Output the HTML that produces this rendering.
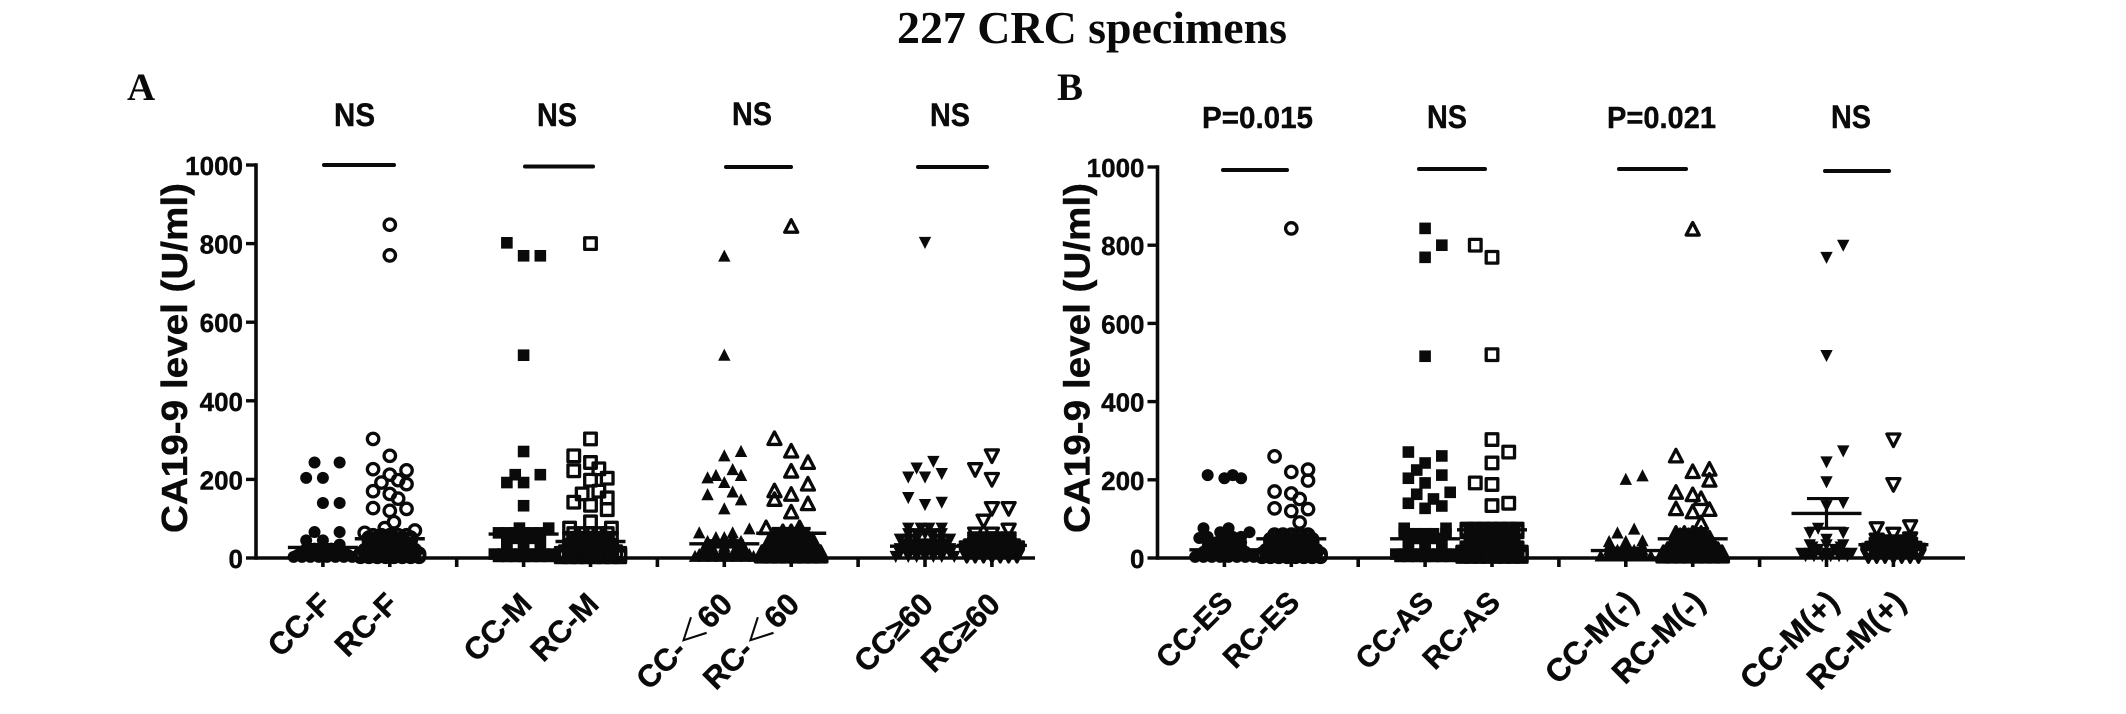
<!DOCTYPE html>
<html lang="en">
<head>
<meta charset="utf-8">
<title>227 CRC specimens</title>
<style>
html,body{margin:0;padding:0;background:#fff;width:2126px;height:714px;overflow:hidden}
svg{display:block}
text{fill:#0a0a0a}
.serif{font-family:"Liberation Serif",serif;font-weight:700}
.sans{font-family:"Liberation Sans","Noto Sans CJK SC",sans-serif;font-weight:700;stroke:#0a0a0a;stroke-width:.4}
</style>
</head>
<body>
<svg id="figure" width="2126" height="714" viewBox="0 0 2126 714" xmlns="http://www.w3.org/2000/svg">
  <rect x="0" y="0" width="2126" height="714" fill="#fff"/>
  <text class="serif" x="897" y="43" font-size="45" textLength="390" lengthAdjust="spacingAndGlyphs">227 CRC specimens</text>
  <text class="serif" x="127" y="100" font-size="39">A</text>
  <text class="serif" x="1057" y="100" font-size="39">B</text>

  <text class="sans" x="334" y="126" font-size="32" textLength="41" lengthAdjust="spacingAndGlyphs">NS</text>
  <text class="sans" x="537" y="126" font-size="32" textLength="40" lengthAdjust="spacingAndGlyphs">NS</text>
  <text class="sans" x="732" y="125" font-size="32" textLength="40" lengthAdjust="spacingAndGlyphs">NS</text>
  <text class="sans" x="930" y="126" font-size="32" textLength="40" lengthAdjust="spacingAndGlyphs">NS</text>
  <text class="sans" x="1202" y="128" font-size="31" textLength="111" lengthAdjust="spacingAndGlyphs">P=0.015</text>
  <text class="sans" x="1427" y="128" font-size="32" textLength="40" lengthAdjust="spacingAndGlyphs">NS</text>
  <text class="sans" x="1607" y="128" font-size="31" textLength="109" lengthAdjust="spacingAndGlyphs">P=0.021</text>
  <text class="sans" x="1831" y="128" font-size="32" textLength="40" lengthAdjust="spacingAndGlyphs">NS</text>

  <rect x="322" y="163" width="74" height="4" rx="2" fill="#0a0a0a"/>
  <rect x="523" y="164.5" width="72" height="4" rx="2" fill="#0a0a0a"/>
  <rect x="724" y="165" width="69" height="4" rx="2" fill="#0a0a0a"/>
  <rect x="916" y="165" width="73" height="4" rx="2" fill="#0a0a0a"/>
  <rect x="1221" y="168" width="68" height="4" rx="2" fill="#0a0a0a"/>
  <rect x="1417" y="167" width="70" height="4" rx="2" fill="#0a0a0a"/>
  <rect x="1617" y="167" width="71" height="4" rx="2" fill="#0a0a0a"/>
  <rect x="1823" y="169" width="68" height="4" rx="2" fill="#0a0a0a"/>

  <text class="sans" transform="translate(187,533) rotate(-90)" font-size="36" textLength="350" lengthAdjust="spacingAndGlyphs">CA19-9 level (U/ml)</text>
  <text class="sans" transform="translate(1089.5,533) rotate(-90)" font-size="36" textLength="350" lengthAdjust="spacingAndGlyphs">CA19-9 level (U/ml)</text>
</svg>

<script>
// ---------- Axis tick labels ----------
const yTickValues = [0, 200, 400, 600, 800, 1000];
const categoriesA = ['CC-F', 'RC-F', 'CC-M', 'RC-M', 'CC-＜60', 'RC-＜60', 'CC≥60', 'RC≥60'];
const categoriesB = ['CC-ES', 'RC-ES', 'CC-AS', 'RC-AS', 'CC-M(-)', 'RC-M(-)', 'CC-M(+)', 'RC-M(+)'];
// Category order along the x axis (1-based slot; slots 3, 6, 9 are the blank spacers)
const categorySlots = [1, 2, 4, 5, 7, 8, 10, 11];
const spacerSlots = [3, 6, 9];

// ---------- Summary statistics ----------
const meansA = [27, 49, 61, 42, 36, 63, 30, 32];
const semsA = [7, 9, 10, 8, 8, 12, 7, 6];
const meansB = [21, 49, 49, 72, 19, 49, 114, 34];
const semsB = [6, 10, 9, 12, 6, 9, 38, 9];

// ---------- Panel A series: values (U/ml) and swarm column (in symbol widths) ----------
const ccFValues = [243,243,204,204,140,140,66,66,45,45,34,
  24,24,24,24,24,
  15,15,15,15,15,15,
  8,8,8,8,8,8,8,
  3,3,3,3,3,3,3,3];
const ccFColumns = [-1,2,-2,0,0,2,-1,2,-2,0,2,
  -2,-1,0,1,2,
  -2.5,-1.5,-.5,.5,1.5,2.5,
  -3,-2,-1,0,1,2,3,
  -3.5,-2.5,-1.5,-.5,.5,1.5,2.5,3.5];

const rcFValues = [848,770,303,260,226,223,212,192,198,188,170,163,151,127,125,120,91,76,64,70,
  58,58,58,58,58,
  52,52,52,52,52,52,
  45,45,45,45,45,45,
  35,35,35,35,35,
  30,30,30,30,30,30,
  25,25,25,25,25,25,
  20,20,20,20,20,20,20,
  15,15,15,15,15,15,15,
  11,11,11,11,11,11,11,11,
  8,8,8,8,8,8,8,8,
  3,3,3,3,3,3,3,3];
const rcFColumns = [0,0,-2,0,-2,2,0,-1,1,2,-2,0,1,-2,2,0,.5,-.6,-3,3,
  -2,-1,0,1,2,
  -2.5,-1.5,-.5,.5,1.5,2.5,
  -2.5,-1.5,-.5,.5,1.5,2.5,
  -2,-1,0,1,2,
  -2.5,-1.5,-.5,.5,1.5,2.5,
  -2.5,-1.5,-.5,.5,1.5,2.5,
  -3,-2,-1,0,1,2,3,
  -3,-2,-1,0,1,2,3,
  -3.5,-2.5,-1.5,-.5,.5,1.5,2.5,3.5,
  -3.5,-2.5,-1.5,-.5,.5,1.5,2.5,3.5,
  -3.5,-2.5,-1.5,-.5,.5,1.5,2.5,3.5];

const ccMValues = [802,769,769,516,271,212,212,192,192,133,76,76,
  64,64,64,64,64,64,
  50,50,50,50,50,
  35,35,35,
  22,22,22,
  10,10,10,10,10,10,10,10,
  4,4,4,4,4,4,4];
const ccMColumns = [-2,0,2,0,0,-1,2,-2,0,0,3,-.5,
  -3,-2,-1,0,1,2,
  -2,-1,0,1,2,
  -2,0,2,
  -2,0,2,
  -3.5,-2.5,-1.5,-.5,.5,1.5,2.5,3.5,
  -3,-2,-1,0,1,2,3];

const rcMValues = [800,303,260,243,227,222,203,198,163,170,153,142,134,123,92,76,76,
  62,62,62,62,62,
  50,50,50,50,50,50,
  44,44,44,44,44,
  38,38,38,38,38,
  32,32,32,32,32,32,
  26,26,26,26,26,26,
  21,21,21,21,21,21,
  16,16,16,16,16,16,16,
  12,12,12,12,12,12,12,12,
  8,8,8,8,8,8,8,8,
  3,3,3,3,3,3,3,3];
const rcMColumns = [0,0,-2,0,1,-2,2,0,-1,1,2,-2,0,2,0,-2.5,2.5,
  -2,-1,0,1,2,
  -2.5,-1.5,-.5,.5,1.5,2.5,
  -2,-1,0,1,2,
  -2,-1,0,1,2,
  -2.5,-1.5,-.5,.5,1.5,2.5,
  -2.5,-1.5,-.5,.5,1.5,2.5,
  -2.5,-1.5,-.5,.5,1.5,2.5,
  -3,-2,-1,0,1,2,3,
  -3.5,-2.5,-1.5,-.5,.5,1.5,2.5,3.5,
  -3.5,-2.5,-1.5,-.5,.5,1.5,2.5,3.5,
  -3.5,-2.5,-1.5,-.5,.5,1.5,2.5,3.5];

const ccYoungValues = [768,516,271,260,225,210,210,204,192,161,168,148,125,74,64,64,
  52,52,52,
  42,42,42,42,42,
  30,30,30,30,30,
  18,18,18,18,18,
  9,9,9,9,9,9,9,
  4,4,4,4,4,4,4,4];
const ccYoungColumns = [0,0,2,0,1,-1,2,-2,0,-2,1,2,0,3,-3,1,
  -1,0,1,
  -2,-1,0,1,2,
  -2.3,-1.6,0,1.6,2.3,
  -2.3,-1.6,0,1.6,2.3,
  -3,-2,-1,0,1,2,3,
  -3.5,-2.5,-1.5,-.5,.5,1.5,2.5,3.5];

const rcYoungValues = [843,303,271,242,220,187,170,148,161,137,116,76,76,
  66,66,66,
  56,56,56,56,
  52,52,52,52,52,
  46,46,46,46,46,46,
  40,40,40,40,40,40,
  34,34,34,34,34,34,
  28,28,28,28,28,
  22,22,22,22,22,22,22,
  17,17,17,17,17,17,17,
  13,13,13,13,13,13,13,13,
  9,9,9,9,9,9,9,9,
  4,4,4,4,4,4,4,4];
const rcYoungColumns = [0,-2,0,2,0,2,-2,-2,0,2,0,-3,1,
  -1,0,1,
  -1.5,-.5,.5,1.5,
  -2,-1,0,1,2,
  -2.5,-1.5,-.5,.5,1.5,2.5,
  -2.5,-1.5,-.5,.5,1.5,2.5,
  -2.5,-1.5,-.5,.5,1.5,2.5,
  -2,-1,0,1,2,
  -3,-2,-1,0,1,2,3,
  -3,-2,-1,0,1,2,3,
  -3.5,-2.5,-1.5,-.5,.5,1.5,2.5,3.5,
  -3.5,-2.5,-1.5,-.5,.5,1.5,2.5,3.5,
  -3.5,-2.5,-1.5,-.5,.5,1.5,2.5,3.5];

const ccOldValues = [803,246,229,206,206,215,154,136,142,76,76,76,76,
  62,62,62,62,62,
  48,48,48,48,48,48,
  36,36,36,36,36,36,
  24,24,24,24,24,24,24,
  12,12,12,12,12,12,12,
  4,4,4,4,4,4,4];
const ccOldColumns = [0,1,-1,-2,0,2,-2,0,2,-2,-.5,.5,2,
  -2,-1,0,1,2,
  -3,-2,-1,1,2,3,
  -2.5,-1.5,-.5,.5,1.5,2.5,
  -3,-2,-1,0,1,2,3,
  -3,-2,-1,0,1,2,3,
  -3.5,-2,-1,0,1,2,3.5];

const rcOldValues = [261,226,201,127,127,95,72,62,62,
  50,50,50,50,
  44,44,44,44,44,
  38,38,38,38,38,
  32,32,32,32,32,32,
  27,27,27,27,27,27,27,
  22,22,22,22,22,22,22,
  17,17,17,17,17,17,17,
  12,12,12,12,12,12,12,
  8,8,8,8,8,8,8];
const rcOldColumns = [0,-2,0,0,2,-1,2,-2,0,
  -2,-.5,.5,2,
  -2,-1,0,1,2,
  -2,-1,0,1,2,
  -2.5,-1.5,-.5,.5,1.5,2.5,
  -3,-2,-1,0,1,2,3,
  -3,-2,-1,0,1,2,3,
  -3,-2,-1,0,1,2,3,
  -3,-2,-1,0,1,2,3,
  -3,-2,-1,0,1,2,3];

// ---------- Panel B series ----------
const ccEsValues = [212,212,204,204,76,76,66,66,51,
  54,54,54,54,
  40,40,40,40,40,
  28,28,28,
  16,16,16,16,16,16,
  8,8,8,8,8,8,8,
  3,3,3,3,3,3,3,3];
const ccEsColumns = [-2,1,0,2,-2.5,.5,3,-.5,-3,
  -2,0,1,2,
  -2,-1,0,1,2,
  -2,0,2,
  -2.5,-1.5,-.5,.5,1.5,2.5,
  -3,-2,-1,0,1,2,3,
  -3.5,-2.5,-1.5,-.5,.5,1.5,2.5,3.5];

const rcEsValues = [843,260,226,220,198,170,165,151,127,125,120,91,
  60,60,60,60,60,
  54,54,54,54,54,
  48,48,48,48,48,48,
  42,42,42,42,42,42,
  36,36,36,36,36,
  30,30,30,30,30,30,
  25,25,25,25,25,25,
  20,20,20,20,20,20,20,
  15,15,15,15,15,15,15,
  11,11,11,11,11,11,11,11,
  8,8,8,8,8,8,8,8,
  3,3,3,3,3,3,3,3];
const rcEsColumns = [0,-2,2,0,2,-2,0,1,-2,2,0,1,
  -2,-1,0,1,2,
  -2,-1,0,1,2,
  -2.5,-1.5,-.5,.5,1.5,2.5,
  -2.5,-1.5,-.5,.5,1.5,2.5,
  -2,-1,0,1,2,
  -2.5,-1.5,-.5,.5,1.5,2.5,
  -2.5,-1.5,-.5,.5,1.5,2.5,
  -3,-2,-1,0,1,2,3,
  -3,-2,-1,0,1,2,3,
  -3.5,-2.5,-1.5,-.5,.5,1.5,2.5,3.5,
  -3.5,-2.5,-1.5,-.5,.5,1.5,2.5,3.5,
  -3.5,-2.5,-1.5,-.5,.5,1.5,2.5,3.5];

const ccAsValues = [843,800,769,516,271,261,243,225,212,204,192,163,168,151,140,133,127,76,76,
  62,62,62,62,62,62,
  50,50,50,50,50,
  35,35,35,
  22,22,22,
  10,10,10,10,10,10,10,10,
  4,4,4,4,4,4,4];
const ccAsColumns = [0,2,0,0,-2,2,0,-1,2,-2,0,-1,3,1,-2,2,0,-2.5,2.5,
  -2.5,-1,0,1,2.5,-2,
  -2,-1,0,1,2,
  -2,0,2,
  -2,0,2,
  -3.5,-2.5,-1.5,-.5,.5,1.5,2.5,3.5,
  -3,-2,-1,0,1,2,3];

const rcAsValues = [800,769,520,303,271,243,192,188,140,134,
  74,74,74,74,74,74,74,
  67,67,67,67,67,67,67,
  60,60,60,60,60,60,
  53,53,53,53,53,53,
  46,46,46,46,46,46,
  39,39,39,39,39,39,
  32,32,32,32,32,32,
  26,26,26,26,26,26,26,
  20,20,20,20,20,20,20,
  15,15,15,15,15,15,15,15,
  10,10,10,10,10,10,10,10,
  4,4,4,4,4,4,4,4];
const rcAsColumns = [-2,0,0,0,2,0,-2,0,2,0,
  -3,-2,-1,0,1,2,3,
  -3,-2,-1,0,1,2,3,
  -2.5,-1.5,-.5,.5,1.5,2.5,
  -2.5,-1.5,-.5,.5,1.5,2.5,
  -2.5,-1.5,-.5,.5,1.5,2.5,
  -2.5,-1.5,-.5,.5,1.5,2.5,
  -2.5,-1.5,-.5,.5,1.5,2.5,
  -3,-2,-1,0,1,2,3,
  -3,-2,-1,0,1,2,3,
  -3.5,-2.5,-1.5,-.5,.5,1.5,2.5,3.5,
  -3.5,-2.5,-1.5,-.5,.5,1.5,2.5,3.5,
  -3.5,-2.5,-1.5,-.5,.5,1.5,2.5,3.5];

const ccMNegValues = [201,210,74,64,44,42,42,
  30,30,30,
  20,20,20,20,20,
  11,11,11,11,11,
  5,5,5,5,5,5,5];
const ccMNegColumns = [0,2,1,-1,2,-2,0,
  -2,0,2,
  -2,-1,0,1,2,
  -2,-1,0,1,2,
  -3,-2,-1,0,1,2,3];

const rcMNegValues = [840,260,220,226,198,167,161,151,125,117,123,89,
  62,62,62,62,
  56,56,56,56,
  50,50,50,50,50,
  44,44,44,44,44,
  38,38,38,38,38,
  32,32,32,32,32,32,
  26,26,26,26,26,26,
  21,21,21,21,21,21,21,
  17,17,17,17,17,17,17,
  13,13,13,13,13,13,13,13,
  9,9,9,9,9,9,9,9,
  4,4,4,4,4,4,4,4];
const rcMNegColumns = [0,-2,0,2,2,-2,0,1,-2,0,2,1,
  -2,-1,0,1,
  -1.5,-.5,.5,1.5,
  -2,-1,0,1,2,
  -2,-1,0,1,2,
  -2,-1,0,1,2,
  -2.5,-1.5,-.5,.5,1.5,2.5,
  -2.5,-1.5,-.5,.5,1.5,2.5,
  -3,-2,-1,0,1,2,3,
  -3,-2,-1,0,1,2,3,
  -3.5,-2.5,-1.5,-.5,.5,1.5,2.5,3.5,
  -3.5,-2.5,-1.5,-.5,.5,1.5,2.5,3.5,
  -3.5,-2.5,-1.5,-.5,.5,1.5,2.5,3.5];

const ccMPosValues = [800,769,518,274,246,195,142,134,76,65,65,48,34,34,34,22,22,
  28,28,
  12,12,12,12,12,
  6,6,6,6,6,6];
const ccMPosColumns = [2,0,0,2,0,0,2,0,-1,-2,2,0,-2,2,0,-1,1,
  -1.7,1.7,
  -3,-2,0,2,3,
  -2.5,-1.5,-.5,.5,1.5,2.5];

const rcMPosValues = [303,189,81,76,62,47,50,
  42,42,42,42,
  36,36,36,36,36,
  31,31,31,31,31,
  26,26,26,26,26,26,
  21,21,21,21,21,21,21,
  16,16,16,16,16,16,16,
  11,11,11,11,11,11,11,
  7,7,7,7,7,7,7];
const rcMPosColumns = [0,0,2,-2,0,-2,2,
  -1.5,-.5,.5,1.5,
  -2,-1,0,1,2,
  -2,-1,0,1,2,
  -2.5,-1.5,-.5,.5,1.5,2.5,
  -3,-2,-1,0,1,2,3,
  -3,-2,-1,0,1,2,3,
  -3,-2,-1,0,1,2,3,
  -3,-2,-1,0,1,2,3];

// ---------- Which series / symbol belong to each category ----------
const seriesValuesA = [ccFValues, rcFValues, ccMValues, rcMValues, ccYoungValues, rcYoungValues, ccOldValues, rcOldValues];
const seriesColumnsA = [ccFColumns, rcFColumns, ccMColumns, rcMColumns, ccYoungColumns, rcYoungColumns, ccOldColumns, rcOldColumns];
const seriesValuesB = [ccEsValues, rcEsValues, ccAsValues, rcAsValues, ccMNegValues, rcMNegValues, ccMPosValues, rcMPosValues];
const seriesColumnsB = [ccEsColumns, rcEsColumns, ccAsColumns, rcAsColumns, ccMNegColumns, rcMNegColumns, ccMPosColumns, rcMPosColumns];
const symbolKinds = ['circle', 'circle-open', 'square', 'square-open', 'up', 'up-open', 'down', 'down-open'];

// ---------- Drawing ----------
const SVG_NS = 'http://www.w3.org/2000/svg';
const INK = '#0a0a0a';
const figure = document.getElementById('figure');

function make(tag, attrs, parent) {
  const el = document.createElementNS(SVG_NS, tag);
  for (const k in attrs) el.setAttribute(k, attrs[k]);
  parent.appendChild(el);
  return el;
}

function line(x1, y1, x2, y2, width, parent) {
  return make('line', { x1: x1, y1: y1, x2: x2, y2: y2, stroke: INK, 'stroke-width': width }, parent);
}

function drawSymbol(kind, cx, cy, parent) {
  const open = kind.endsWith('-open');
  const base = kind.split('-')[0];
  const paint = open
    ? { fill: 'none', stroke: INK, 'stroke-width': 3.3, 'stroke-linejoin': 'round' }
    : { fill: INK };
  let el;
  if (base === 'circle') {
    el = make('circle', Object.assign({ cx: cx, cy: cy, r: open ? 5.7 : 6 }, paint), parent);
  } else if (base === 'square') {
    const s = 11.6;
    el = make('rect', Object.assign({ x: cx - s / 2, y: cy - s / 2, width: s, height: s }, paint), parent);
  } else {
    const dir = base === 'up' ? 1 : -1;
    const hw = open ? 6.5 : 6.2;
    const top = open ? 7 : 6.6;
    const bot = 5.5;
    const pts = [[cx, cy - dir * top], [cx - hw, cy + dir * bot], [cx + hw, cy + dir * bot]];
    el = make('polygon', Object.assign({ points: pts.map(p => p.join(',')).join(' ') }, paint), parent);
  }
  return el;
}

function drawCategoryLabel(text, x, y, size, parent) {
  const t = make('text', { class: 'sans', 'font-size': size, 'text-anchor': 'end', transform: 'translate(' + x + ',' + y + ') rotate(-45)' }, parent);
  const parts = text.split('＜');
  if (parts.length === 2) {
    t.appendChild(document.createTextNode(parts[0]));
    const thin = make('tspan', { 'font-weight': 400, 'stroke-width': 0 }, t);
    thin.textContent = '＜';
    t.appendChild(document.createTextNode(parts[1]));
  } else {
    t.textContent = text;
  }
  return t;
}

function drawPanel(panel) {
  const xScale = slot => panel.axisX + panel.slotWidth * slot;
  const yScale = value => panel.zeroY - value * panel.pxPerUnit;
  const symbolWidth = panel.slotWidth / 8;

  const root = make('g', {}, figure);
  
  

  // Y axis
  const yAxis = line(panel.axisX, yScale(1000) - 1.7, panel.axisX, yScale(0) + 1.7, 3.6, root);
  
  
  yTickValues.forEach(v => {
    const tick = line(panel.axisX - 10, yScale(v), panel.axisX, yScale(v), 3.4, root);
    
    
    const label = make('text', { class: 'sans', 'font-size': 26, 'text-anchor': 'end', x: panel.axisX - 13, y: yScale(v) + 10 }, root);
    label.textContent = String(v);
    
    
  });

  // X axis
  const xAxis = line(panel.axisX, panel.zeroY, panel.axisEnd, panel.zeroY, 3.6, root);
  
  
  spacerSlots.concat(categorySlots).forEach(slot => {
    const tick = line(xScale(slot), panel.zeroY, xScale(slot), panel.zeroY + 9, 3.6, root);
    
    
  });

  // Series
  panel.categories.forEach((category, i) => {
    const cx = xScale(categorySlots[i]);
    const group = make('g', {}, root);
    
    

    const values = panel.values[i];
    const columns = panel.columns[i];
    values.forEach((v, j) => {
      const point = drawSymbol(symbolKinds[i], cx + columns[j] * symbolWidth, yScale(v), group);
      
      
    });

    const mean = panel.means[i];
    const sem = panel.sems[i];
    const meanLine = line(cx - 35, yScale(mean), cx + 35, yScale(mean), 3.4, group);
    
    
    const errStem = line(cx, yScale(mean + sem), cx, yScale(mean - sem), 3.2, group);
    
    
    const capTop = line(cx - 19.5, yScale(mean + sem), cx + 19.5, yScale(mean + sem), 3.2, group);
    
    
    const capBottom = line(cx - 19.5, yScale(mean - sem), cx + 19.5, yScale(mean - sem), 3.2, group);
    
    

    const wide = category.includes('(');
    const label = drawCategoryLabel(category, cx + (wide ? panel.labelDx + 4 : panel.labelDx), panel.labelY, wide ? panel.labelSize + 2 : panel.labelSize, root);
    
    
  });
}

drawPanel({
  name: 'panel-a', axisX: 256, axisEnd: 1035, zeroY: 558, pxPerUnit: 0.393, slotWidth: 66.9, labelDx: 10, labelY: 606, labelSize: 31,
  categories: categoriesA, values: seriesValuesA, columns: seriesColumnsA, means: meansA, sems: semsA
});
drawPanel({
  name: 'panel-b', axisX: 1157.5, axisEnd: 1965, zeroY: 558, pxPerUnit: 0.391, slotWidth: 66.9, labelDx: 10, labelY: 604, labelSize: 30,
  categories: categoriesB, values: seriesValuesB, columns: seriesColumnsB, means: meansB, sems: semsB
});
</script>
</body>
</html>
